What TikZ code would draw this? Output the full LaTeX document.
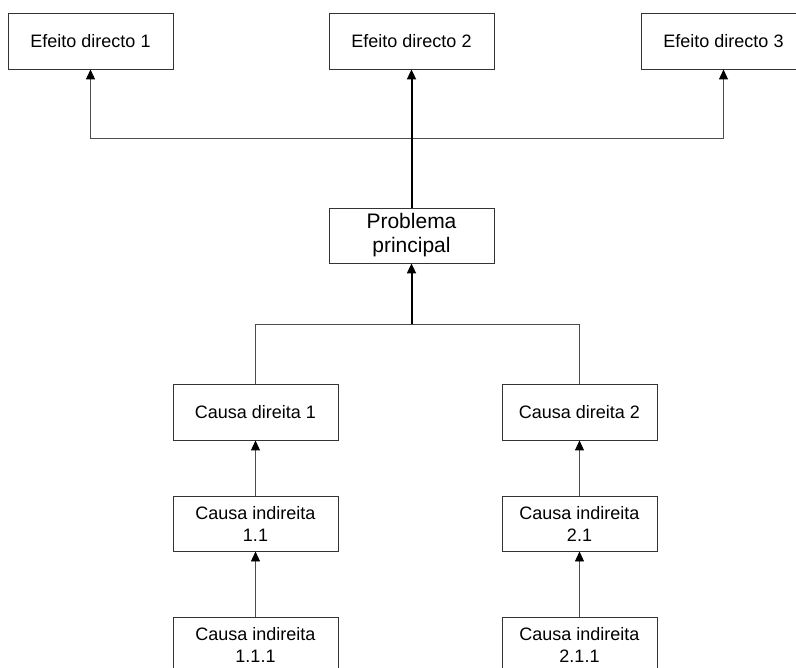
\documentclass[tikz,border=0pt]{standalone}
\usepackage{fontspec}
\setmainfont{Liberation Sans}
\usepackage{tikz}
\usetikzlibrary{arrows.meta}
\usetikzlibrary{positioning}

\tikzset{
	caixa/.style={rectangle,draw=black!80,line width=0.9pt,align=center,
		minimum width=165pt,minimum height=56pt,inner sep=0pt,
		font=\fontsize{18}{22}\selectfont},
	caixad/.style={caixa,minimum width=155pt},
	seta/.style={-{Triangle[length=10pt,width=9pt,black]}},
	linha/.style={draw=black!70,line width=0.9pt},
	grossa/.style={draw=black,line width=2pt},
}

\begin{document}
	\begin{tikzpicture}[x=1pt,y=-1pt]
		\useasboundingbox (0,0) rectangle (796,668);
		\clip (0,0) rectangle (796,668);
		\begin{scope}[every node/.style={caixa}]
			% efeitos
			\node (ef1) at (90.5,41) {Efeito directo 1};
			\node (ef2) at (411.5,41) {Efeito directo 2};
			\node (ef3) at (723.5,41) {Efeito directo 3};
			% problema
			\node[minimum height=55pt,font=\fontsize{21}{24}\selectfont] (prob) at (411.5,235.5) {Problema\\principal};
			% causas
			\node (cd1) at (255.5,412) {Causa direita 1};
			\node[caixad] (cd2) at (579.5,412) {Causa direita 2};
			\node[minimum height=55pt] (ci11) at (255.5,523.5) {Causa indireita\\1.1};
			\node[caixad,minimum height=55pt] (ci21) at (579.5,523.5) {Causa indireita\\2.1};
			\node (ci111) at (255.5,645) {Causa indireita\\1.1.1};
			\node[caixad] (ci211) at (579.5,645) {Causa indireita\\2.1.1};
		\end{scope}
		\coordinate (j1) at (411.5,138);
		\coordinate (j2) at (411.5,324);
		\draw[linha,seta] (j1) -| (ef1.south);
		\draw[linha,seta] (j1) -| (ef3.south);
		\draw[linha] (j2) -| (cd1.north);
		\draw[linha] (j2) -| (cd2.north);
		\begin{scope}[every edge/.style={linha,seta}]
			\path (ci11.north) edge (cd1.south);
			\path (ci21.north) edge (cd2.south);
			\path (ci111.north) edge (ci11.south);
			\path (ci211.north) edge (ci21.south);
		\end{scope}
		\begin{scope}[every edge/.style={grossa,seta}]
			\path (prob.north) edge (ef2.south);
			\path (j2) edge (prob.south);
		\end{scope}
	\end{tikzpicture}
\end{document}
